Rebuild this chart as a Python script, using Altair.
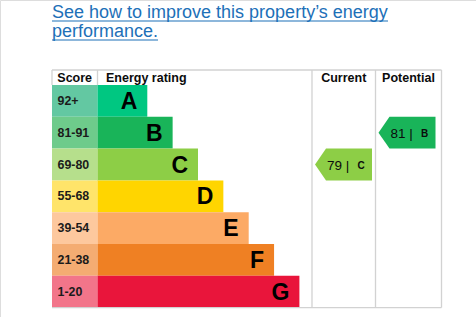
import altair as alt
import pandas as pd

# ---- data ----
ratings = ["A", "B", "C", "D", "E", "F", "G"]
score_ranges = ["92+", "81-91", "69-80", "55-68", "39-54", "21-38", "1-20"]
score_mins = [92, 81, 69, 55, 39, 21, 1]
band_colors = ["#00c781", "#19b459", "#8dce46", "#ffd500", "#fcaa65", "#ef8023", "#e9153b"]
score_colors = ["#63c8a2", "#6ecb8b", "#b6df8c", "#ffe46a", "#fdc89e", "#f4ac72", "#f2758a"]
headers = ["Score", "Energy rating", "Current", "Potential"]
current_score = 79
potential_score = 81
link_lines = ["See how to improve this property\u2019s energy", "performance."]

# ---- layout ----
W, H = 476, 317
LEFT, SCORE_R = 52, 97.5
TOP, ROW_TOP, ROW_H = 70, 85, 31.8
BAR0, BAR_STEP = 147.3, 25.35
CUR_L, CUR_R, POT_R = 312, 375.5, 441.5
BLUE = "#1d70b8"
GRID = "#d2d2d2"

def band_of(score):
    for i, m in enumerate(score_mins):
        if score >= m:
            return i
    return len(score_mins) - 1

rows = pd.DataFrame({
    "rating": ratings,
    "range": score_ranges,
    "band": band_colors,
    "scol": score_colors,
})
rows["top"] = [ROW_TOP + i * ROW_H for i in range(len(ratings))]
rows["bot"] = rows["top"] + ROW_H
rows["mid"] = rows["top"] + ROW_H / 2
rows["end"] = [BAR0 + i * BAR_STEP for i in range(len(ratings))]
rows["left"] = LEFT
rows["sr"] = SCORE_R
rows["lx"] = rows["end"] - 10
rows["sx"] = LEFT + 5.5

xs = alt.Scale(domain=[0, W], range=[0, W], nice=False, zero=False)
ys = alt.Scale(domain=[0, H], range=[0, H], nice=False, zero=False)

def X(f):
    return alt.X(f, type="quantitative", scale=xs, axis=None)

def Y(f):
    return alt.Y(f, type="quantitative", scale=ys, axis=None)

base = alt.Chart(rows)
score_rects = base.mark_rect().encode(x=X("left"), x2="sr", y=Y("top"), y2="bot",
                                      color=alt.Color("scol:N", scale=None))
bar_rects = base.mark_rect().encode(x=X("sr"), x2="end", y=Y("top"), y2="bot",
                                    color=alt.Color("band:N", scale=None))
score_text = base.mark_text(align="left", baseline="middle", font="Liberation Sans",
                            fontWeight="bold", fontSize=12.4, color="#1b1b1b").encode(
    x=X("sx"), y=Y("mid"), text="range:N")
letter_text = base.mark_text(align="right", baseline="middle", font="Liberation Sans",
                             fontWeight="bold", fontSize=23, color="#000000", dy=1).encode(
    x=X("lx"), y=Y("mid"), text="rating:N")

# borders
bottom = ROW_TOP + len(ratings) * ROW_H
lines = pd.DataFrame([
    {"x": LEFT, "x2": POT_R, "y": TOP, "y2": TOP},
    {"x": LEFT, "x2": POT_R, "y": bottom, "y2": bottom},
    {"x": LEFT, "x2": LEFT, "y": TOP, "y2": ROW_TOP},
    {"x": SCORE_R, "x2": SCORE_R, "y": TOP, "y2": ROW_TOP},
    {"x": CUR_L, "x2": CUR_L, "y": TOP, "y2": bottom},
    {"x": CUR_R, "x2": CUR_R, "y": TOP, "y2": bottom},
    {"x": POT_R, "x2": POT_R, "y": TOP, "y2": bottom},
])
borders = alt.Chart(lines).mark_rule(color=GRID, strokeWidth=1.3).encode(
    x=X("x"), x2="x2", y=Y("y"), y2="y2")

# headers
hdr = pd.DataFrame({
    "t": headers,
    "x": [LEFT + 5.3, SCORE_R + 8.5, (CUR_L + CUR_R) / 2, (CUR_R + POT_R) / 2],
    "a": ["left", "left", "center", "center"],
    "y": [TOP + 8] * 4,
})
hdr_left = alt.Chart(hdr[hdr["a"] == "left"]).mark_text(
    align="left", baseline="middle", font="Liberation Sans", fontWeight="bold",
    fontSize=12.5, color="#0b0c0c").encode(x=X("x"), y=Y("y"), text="t:N")
hdr_center = alt.Chart(hdr[hdr["a"] == "center"]).mark_text(
    align="center", baseline="middle", font="Liberation Sans", fontWeight="bold",
    fontSize=12.5, color="#0b0c0c").encode(x=X("x"), y=Y("y"), text="t:N")

# arrows
arrow_pts = []
arrow_txt = []
for name, score, col_l, col_r in [("current", current_score, CUR_L, CUR_R),
                                   ("potential", potential_score, CUR_R, POT_R)]:
    b = band_of(score)
    t = ROW_TOP + b * ROW_H
    tip = col_l + 3
    end = tip + 57
    c = band_colors[b]
    arrow_pts += [
        {"id": name, "x": tip, "y": t + ROW_H / 2, "y2": t + ROW_H / 2, "c": c},
        {"id": name, "x": tip + 11, "y": t, "y2": t + ROW_H, "c": c},
        {"id": name, "x": end, "y": t, "y2": t + ROW_H, "c": c},
    ]
    arrow_txt.append({"num": f"{score} |", "let": ratings[b], "nx": tip + 12,
                      "lx": tip + 42.5, "y": t + ROW_H / 2 + 1})
arrows = alt.Chart(pd.DataFrame(arrow_pts)).mark_area(orient="vertical").encode(
    x=X("x"), y=Y("y"), y2="y2", detail="id:N", color=alt.Color("c:N", scale=None))
atx = pd.DataFrame(arrow_txt)
arrow_num = alt.Chart(atx).mark_text(align="left", baseline="middle", font="Liberation Sans",
                                     fontSize=13.5, color="#0b0c0c").encode(
    x=X("nx"), y=Y("y"), text="num:N")
arrow_let = alt.Chart(atx).mark_text(align="left", baseline="middle", font="Liberation Sans",
                                     fontWeight="bold", fontSize=10, color="#0b0c0c").encode(
    x=X("lx"), y=Y("y"), text="let:N")

# link title
link = pd.DataFrame({"t": link_lines, "x": [LEFT, LEFT], "y": [18, 37]})
link_text = alt.Chart(link).mark_text(align="left", baseline="alphabetic", font="Liberation Sans",
                                      fontSize=18, color=BLUE).encode(
    x=X("x"), y=Y("y"), text="t:N")
ul = pd.DataFrame({"x": [LEFT, LEFT], "x2": [388, 158], "y": [21, 40]})
underline = alt.Chart(ul).mark_rule(color=BLUE, strokeWidth=1.2).encode(
    x=X("x"), x2="x2", y=Y("y"))

chart = alt.layer(
    score_rects, bar_rects, borders, score_text, letter_text, hdr_left, hdr_center,
    arrows, arrow_num, arrow_let, link_text, underline
).properties(
    width=W, height=H, padding=0, autosize=alt.AutoSizeParams(type="none")
).configure_view(stroke=None).configure(background="white")

chart.save("out.html", embed_options={"renderer": "svg", "actions": False})
